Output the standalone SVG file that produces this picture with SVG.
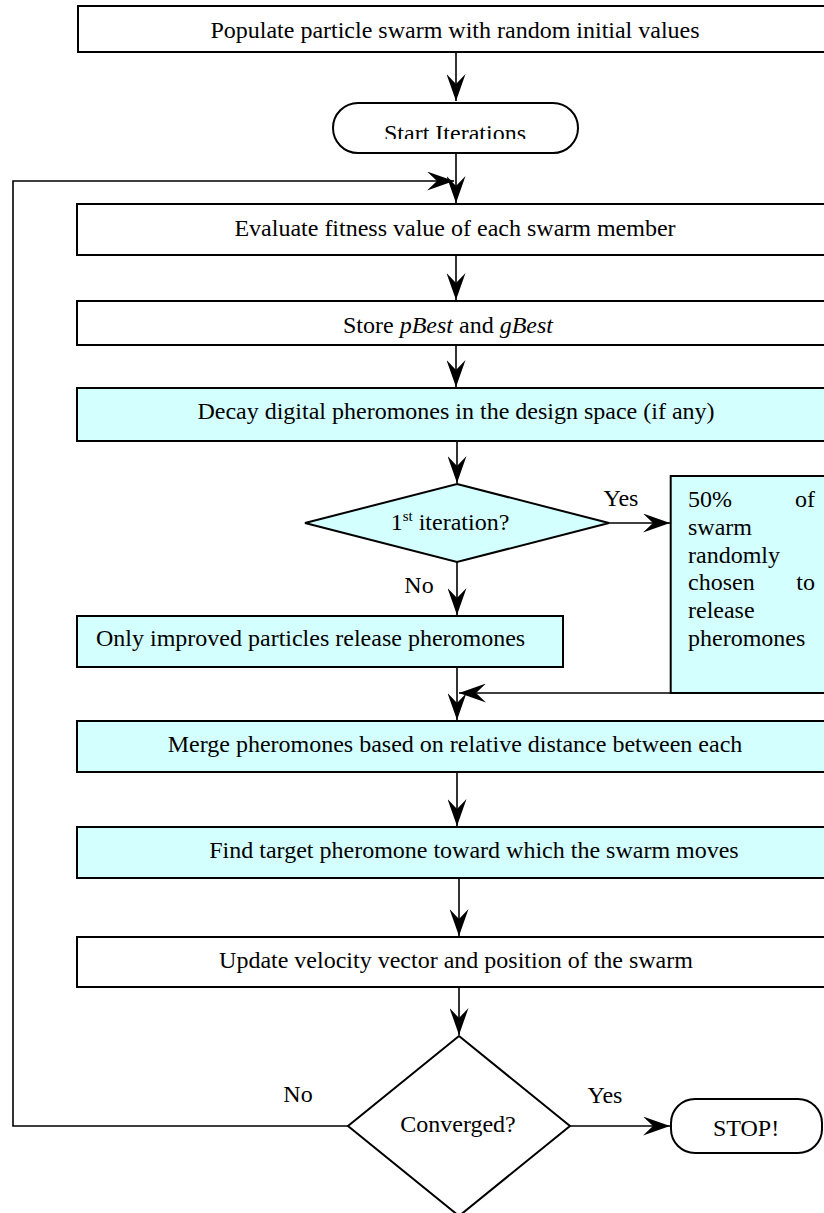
<svg xmlns="http://www.w3.org/2000/svg" width="824" height="1213" viewBox="0 0 824 1213">
<style>
.box{fill:#fff;stroke:#000;stroke-width:2}
.cyan{fill:#d4ffff;stroke:#000;stroke-width:2}
.t{font-family:"Liberation Serif","Times New Roman",serif;font-size:24px;fill:#000}
.c{text-anchor:middle}
.conn{fill:none;stroke:#000;stroke-width:1.6}
</style>
<defs>
<marker id="arr" viewBox="0 0 27 19" refX="27" refY="9.5" markerWidth="27" markerHeight="19" markerUnits="userSpaceOnUse" orient="auto">
<path d="M27,9.5 L0,0 L10,9.5 L0,19 Z" fill="#000"/>
</marker>
<clipPath id="clipStart"><rect x="333" y="103" width="245" height="36"/></clipPath>
</defs>
<g id="connectors">
<path class="conn" d="M456,52 V101" marker-end="url(#arr)"/>
<path class="conn" d="M456,153 V203" marker-end="url(#arr)"/>
<path class="conn" d="M348,1126 H13 V181 H454" marker-end="url(#arr)"/>
<path class="conn" d="M456,255 V300" marker-end="url(#arr)"/>
<path class="conn" d="M456,345 V387" marker-end="url(#arr)"/>
<path class="conn" d="M457,441 V483" marker-end="url(#arr)"/>
<path class="conn" d="M609,523 H670" marker-end="url(#arr)"/>
<path class="conn" d="M457,562 V615" marker-end="url(#arr)"/>
<path class="conn" d="M457,667 V720" marker-end="url(#arr)"/>
<path class="conn" d="M670,693 H459" marker-end="url(#arr)"/>
<path class="conn" d="M457,772 V826" marker-end="url(#arr)"/>
<path class="conn" d="M459,878 V936" marker-end="url(#arr)"/>
<path class="conn" d="M459,987 V1035" marker-end="url(#arr)"/>
<path class="conn" d="M570,1126 H670" marker-end="url(#arr)"/>
<text class="t c" x="621" y="506">Yes</text>
<text class="t c" x="419" y="593">No</text>
<text class="t c" x="298" y="1102">No</text>
<text class="t c" x="605" y="1103">Yes</text>
</g>
<g id="populate">
<rect class="box" x="78" y="6" width="760" height="46"/>
<text class="t c" x="455" y="38">Populate particle swarm with random initial values</text>
</g>
<g id="start">
<rect class="box" x="333" y="103" width="245" height="50" rx="25" ry="25"/>
<text class="t c" x="455" y="141" clip-path="url(#clipStart)">Start Iterations</text>
</g>
<g id="evaluate">
<rect class="box" x="77" y="204" width="762" height="51"/>
<text class="t c" x="455" y="236">Evaluate fitness value of each swarm member</text>
</g>
<g id="store">
<rect class="box" x="77" y="301" width="762" height="44"/>
<text class="t c" x="448" y="333">Store <tspan font-style="italic">pBest</tspan> and <tspan font-style="italic">gBest</tspan></text>
</g>
<g id="decay">
<rect class="cyan" x="77" y="388" width="762" height="53"/>
<text class="t c" x="456" y="419">Decay digital pheromones in the design space (if any)</text>
</g>
<g id="first-iteration">
<polygon class="cyan" points="457,484 609,523 457,562 305,523"/>
<text class="t c" x="450" y="530">1<tspan font-size="15" dy="-9">st</tspan><tspan dy="9"> iteration?</tspan></text>
</g>
<g id="random-release">
<rect class="cyan" x="670.7" y="476" width="170" height="217"/>
<text class="t" x="688" y="507">50%</text>
<text class="t" x="815" y="507" text-anchor="end">of</text>
<text class="t" x="688" y="535">swarm</text>
<text class="t" x="688" y="563">randomly</text>
<text class="t" x="688" y="590">chosen</text>
<text class="t" x="815" y="590" text-anchor="end">to</text>
<text class="t" x="688" y="618">release</text>
<text class="t" x="688" y="646">pheromones</text>
</g>
<g id="improved-release">
<rect class="cyan" x="77" y="616" width="486" height="51"/>
<text class="t" x="96" y="646">Only improved particles release pheromones</text>
</g>
<g id="merge">
<rect class="cyan" x="77" y="721" width="762" height="51"/>
<text class="t c" x="455" y="752">Merge pheromones based on relative distance between each</text>
</g>
<g id="find-target">
<rect class="cyan" x="77" y="827" width="762" height="51"/>
<text class="t c" x="474" y="858">Find target pheromone toward which the swarm moves</text>
</g>
<g id="update">
<rect class="box" x="77" y="937" width="762" height="50"/>
<text class="t c" x="456" y="968">Update velocity vector and position of the swarm</text>
</g>
<g id="converged">
<polygon class="box" points="459,1036 570,1126 459,1216 348,1126"/>
<text class="t c" x="458" y="1132">Converged?</text>
</g>
<g id="stop">
<rect class="box" x="671" y="1099" width="151" height="54" rx="24" ry="24"/>
<text class="t c" x="746" y="1136">STOP!</text>
</g>
</svg>
